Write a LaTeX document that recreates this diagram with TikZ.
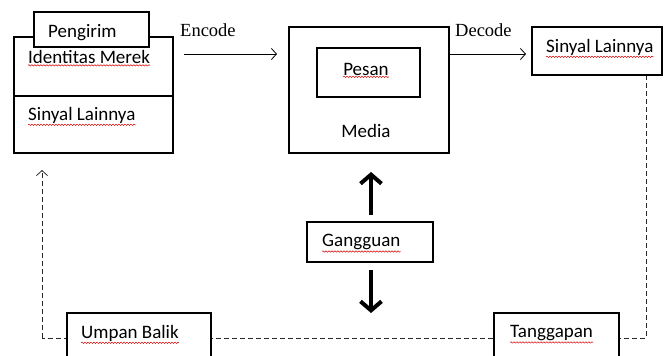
\documentclass[tikz,border=0pt]{standalone}
\usepackage{fontspec}
\setmainfont{Carlito}
\newfontfamily\seriffont{Liberation Serif}
\usetikzlibrary{arrows.meta,decorations.pathmorphing}
\begin{document}
\begin{tikzpicture}[x=1pt,y=-1pt,
  box/.style={draw, line width=1.7pt, fill=white, inner sep=0pt},
  lbl/.style={font=\fontsize{19}{21}\selectfont, inner sep=0pt, anchor=west},
  tlbl/.style={font=\seriffont\fontsize{18.5}{21}\selectfont, inner sep=0pt, anchor=west},
  thin arrow/.style={line width=0.8pt, -{Straight Barb[length=5pt,width=11pt,line width=0.8pt]}},
  thick arrow/.style={line width=4.5pt, -{Straight Barb[length=9pt,width=21pt,line width=4pt]}},
  dashline/.style={line width=1pt, dash pattern=on 5pt off 3pt, draw=black!85},
  wavy/.style={draw=red!85!black, line width=0.5pt, decorate, decoration={snake, amplitude=0.7pt, segment length=3pt}}
]
\useasboundingbox (0,0) rectangle (664,356);

% dashed feedback loop (behind boxes)
\coordinate (fbtop) at (646,75);
\coordinate (fbcornerR) at (646,338);
\coordinate (fbcornerL) at (42,338);
\coordinate (fbend) at (42,170);
\draw[dashline] (fbtop) -- (fbcornerR) -- (fbcornerL);
\draw[dashline, -{Straight Barb[length=5pt,width=11pt,line width=0.8pt]}] (fbcornerL) -- (fbend);

% sender
\node[box, minimum width=159pt, minimum height=116pt] (sender) at (93.5,95) {};
\coordinate (divL) at (14,96);
\coordinate (divR) at (173,96);
\draw[line width=1.7pt] (divL) -- (divR);
\node[box, minimum width=115pt, minimum height=35pt] (pengirimbox) at (91.5,29.5) {};
\node[lbl] (pengirim) at (48,33) {Pengirim};
\node[lbl] (identitas) at (28,57) {Identitas Merek};
\node[lbl] (sinyal1) at (28,115) {Sinyal Lainnya};

% encode
\node[tlbl] (encode) at (180,30) {Encode};
\coordinate (encA) at (184,54);
\coordinate (encB) at (277,54);
\draw[thin arrow] (encA) -- (encB);

% media
\node[box, minimum width=160pt, minimum height=126pt] (media) at (369,90) {};
\node[box, minimum width=103pt, minimum height=49pt] (pesanbox) at (368.5,72.5) {};
\node[lbl, anchor=center] (pesan) at (366,69) {Pesan};
\node[lbl, anchor=center] (medialbl) at (366,131) {Media};

% decode
\node[tlbl] (decode) at (455,30) {Decode};
\coordinate (decB) at (526,54);
\draw[thin arrow] (media.east |- decB) -- (decB);

% receiver
\node[box, minimum width=130pt, minimum height=48pt] (receiver) at (597,51) {};
\node[lbl] (sinyal2) at (546,47) {Sinyal Lainnya};

% noise
\node[box, minimum width=126pt, minimum height=40pt] (gangguanbox) at (370,242) {};
\node[lbl] (gangguan) at (322,242) {Gangguan};
\coordinate (upA) at (371,215);
\coordinate (upB) at (371,172);
\coordinate (dnA) at (371,270);
\coordinate (dnB) at (371,313);
\draw[thick arrow] (upA) -- (upB);
\draw[thick arrow] (dnA) -- (dnB);

% bottom boxes
\node[box, minimum width=144pt, minimum height=46pt] (umpanbox) at (139,336) {};
\node[lbl] (umpan) at (81,333) {Umpan Balik};
\node[box, minimum width=125pt, minimum height=46pt] (tanggapanbox) at (556.5,336) {};
\node[lbl] (tanggapan) at (510,333) {Tanggapan};

% spell-check underlines
\foreach \n in {identitas, sinyal1, pesan, sinyal2, gangguan, umpan, tanggapan}{
  \draw[wavy] ([yshift=-1.5pt]\n.south west) -- ([yshift=-1.5pt]\n.south east);
}
\end{tikzpicture}
\end{document}
